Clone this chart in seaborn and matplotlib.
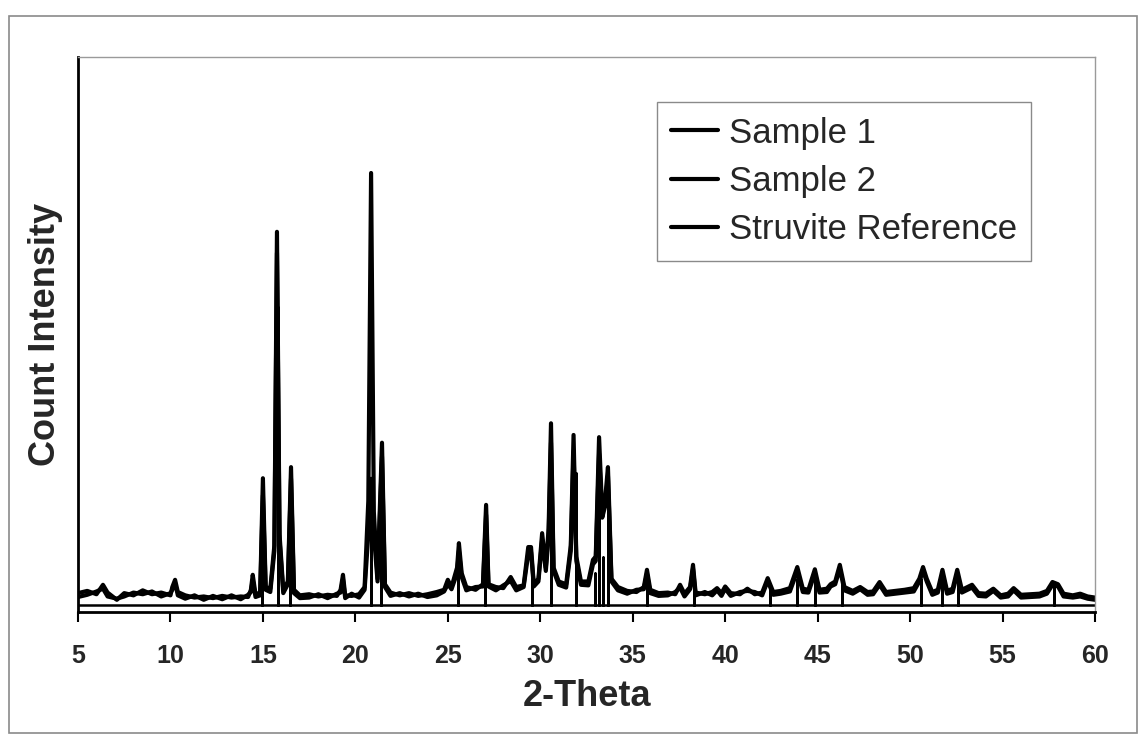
import matplotlib
matplotlib.use("Agg")
import matplotlib.pyplot as plt
from matplotlib.patches import Rectangle
import seaborn as sns
import pandas as pd

# ---------------- data ----------------
two_theta = [
    5.0, 5.5, 6.0, 6.35, 6.6, 7.1, 7.5, 8.0, 8.5, 9.0, 9.5, 10.0, 10.1, 10.25, 10.4,
    10.8, 11.3, 11.8, 12.3, 12.8, 13.3, 13.8, 14.2, 14.35, 14.45, 14.6, 14.85, 15.0,
    15.15, 15.4, 15.62, 15.76, 15.9, 16.1, 16.35, 16.52, 16.68, 17.0, 17.5, 18.0,
    18.5, 19.0, 19.2, 19.33, 19.45, 19.8, 20.2, 20.5, 20.7, 20.85, 21.0, 21.2, 21.44,
    21.6, 21.9, 22.4, 22.9, 23.4, 23.9, 24.4, 24.8, 25.0, 25.2, 25.5, 25.6, 25.75,
    26.0, 26.5, 26.9, 27.07, 27.2, 27.6, 28.0, 28.4, 28.7, 29.1, 29.35, 29.5, 29.65,
    29.9, 30.1, 30.3, 30.45, 30.58, 30.72, 31.0, 31.4, 31.65, 31.8, 31.95, 32.2,
    32.6, 32.85, 33.0, 33.18, 33.35, 33.5, 33.66, 33.85, 34.2, 34.7, 35.2, 35.6,
    35.77, 35.95, 36.4, 36.9, 37.3, 37.56, 37.8, 38.1, 38.26, 38.4, 38.9, 39.3,
    39.56, 39.8, 40.0, 40.3, 40.8, 41.2, 41.6, 42.0, 42.3, 42.6, 43.0, 43.5, 43.9,
    44.2, 44.5, 44.85, 45.1, 45.5, 45.7, 45.95, 46.2, 46.45, 46.9, 47.3, 47.7, 48.0,
    48.35, 48.7, 49.2, 49.7, 50.2, 50.5, 50.7, 50.9, 51.2, 51.5, 51.75, 52.0, 52.3,
    52.55, 52.8, 53.35, 53.7, 54.1, 54.5, 54.9, 55.3, 55.6, 56.0, 56.5, 57.0, 57.4,
    57.7, 58.0, 58.3, 58.8, 59.2, 59.6, 60.0,
]

sample_1 = [
    3.4, 3.8, 3.2, 4.9, 3.5, 2.2, 3.4, 3.0, 3.9, 3.2, 3.5, 3.0, 4.5, 5.8, 3.6,
    3.0, 2.6, 2.8, 2.5, 2.9, 2.6, 2.8, 2.7, 4.0, 6.7, 3.2, 3.5, 24.1,
    4.5, 4.2, 12.0, 68.5, 14.0, 4.0, 5.5, 26.1, 4.0, 3.0, 3.2, 2.8,
    3.1, 2.9, 4.0, 6.7, 3.0, 2.9, 3.2, 4.5, 20.0, 79.1, 18.0, 6.0, 30.5,
    5.0, 3.5, 3.0, 3.4, 2.9, 3.2, 3.6, 4.0, 5.8, 4.5, 8.0, 12.4, 7.0,
    4.5, 4.0, 5.0, 19.3, 5.0, 4.5, 4.3, 6.3, 4.5, 4.8, 11.7, 11.7, 5.0,
    6.0, 14.2, 8.0, 15.0, 34.0, 8.0, 5.5, 5.0, 12.0, 31.9, 10.0, 5.5,
    5.5, 9.4, 10.0, 31.5, 18.0, 20.0, 26.1, 6.0, 4.5, 3.8, 3.6, 4.5,
    7.6, 4.0, 3.4, 3.5, 3.2, 4.9, 3.3, 4.5, 8.5, 3.5, 3.2, 3.6,
    4.3, 3.4, 4.6, 3.4, 3.2, 4.2, 3.2, 3.5, 6.1, 3.6, 3.8, 4.3, 8.1,
    4.2, 4.0, 7.7, 4.0, 4.2, 5.0, 5.5, 8.5, 4.5, 3.8, 4.5, 3.6, 3.7,
    5.4, 3.6, 3.8, 4.0, 4.3, 6.0, 8.1, 6.0, 3.6, 4.0, 7.6, 3.8, 4.2,
    7.6, 4.0, 4.9, 3.4, 3.3, 4.2, 3.0, 3.3, 4.3, 3.1, 3.2, 3.3, 3.8,
    5.4, 5.0, 3.3, 3.0, 3.3, 2.8, 2.6,
]

sample_2 = [
    2.7, 3.1, 3.7, 4.2, 2.8, 2.4, 2.8, 3.5, 3.2, 3.7, 2.8, 3.4, 4.0, 5.2, 3.0,
    2.4, 3.0, 2.2, 2.9, 2.3, 3.0, 2.3, 3.1, 3.6, 5.8, 2.7, 3.0, 21.0,
    4.0, 3.6, 11.0, 64.7, 13.0, 3.4, 5.0, 24.0, 3.4, 2.5, 2.6, 3.2,
    2.5, 3.3, 3.5, 5.9, 2.5, 3.3, 2.6, 4.0, 14.0, 24.0, 14.0, 5.5, 28.0,
    4.5, 2.9, 3.4, 2.8, 3.3, 2.7, 3.0, 3.7, 5.0, 4.1, 7.0, 11.0, 6.3,
    3.9, 4.5, 4.6, 17.5, 4.6, 3.9, 4.8, 5.6, 3.9, 4.5, 10.5, 10.8, 4.6,
    5.5, 13.0, 7.4, 13.5, 30.5, 7.4, 4.9, 4.4, 11.0, 29.0, 9.2, 4.9,
    4.8, 8.6, 9.2, 28.5, 17.0, 19.0, 24.5, 5.5, 3.9, 3.3, 4.0, 4.1,
    6.9, 3.4, 2.9, 3.0, 3.6, 4.4, 2.8, 4.1, 7.8, 3.0, 3.6, 3.0,
    3.9, 2.9, 4.2, 2.9, 3.6, 3.8, 3.6, 3.0, 5.6, 3.1, 3.3, 3.7, 7.4,
    3.6, 3.5, 7.0, 3.5, 3.6, 4.6, 5.0, 7.8, 3.9, 3.3, 4.1, 3.1, 3.2,
    4.9, 3.1, 3.3, 3.5, 3.7, 5.5, 7.4, 5.5, 3.1, 3.5, 6.9, 3.3, 3.6,
    6.9, 3.5, 4.4, 2.9, 2.8, 3.8, 2.6, 2.8, 3.9, 2.6, 2.7, 2.8, 3.3,
    4.9, 4.6, 2.8, 2.6, 2.8, 2.4, 2.2,
]

ref_positions = [14.95, 15.8, 16.45, 20.85, 21.4, 25.55, 27.0, 29.55, 30.6, 31.95,
                 32.95, 33.2, 33.4, 33.66, 35.77, 38.3, 42.4, 43.9, 44.85, 46.3,
                 50.6, 51.7, 52.6, 57.8]
ref_heights = [18.0, 55.0, 20.0, 24.0, 24.0, 9.0, 15.0, 9.0, 27.0, 25.0,
               7.0, 25.0, 10.0, 20.0, 6.0, 6.5, 5.0, 6.0, 6.0, 6.5,
               6.0, 6.0, 6.0, 4.5]
ref_base = 1.2

series_names = ["Sample 1", "Sample 2", "Struvite Reference"]
x_ticks = [5, 10, 15, 20, 25, 30, 35, 40, 45, 50, 55, 60]

# ---------------- frames ----------------
df_samples = pd.DataFrame({
    "theta": two_theta * 2,
    "intensity": sample_1 + sample_2,
    "series": [series_names[0]] * len(two_theta) + [series_names[1]] * len(two_theta),
})

ref_x, ref_y = [5.0], [ref_base]
for p, h in zip(ref_positions, ref_heights):
    ref_x += [p, p, p]
    ref_y += [ref_base, h, ref_base]
ref_x.append(60.0)
ref_y.append(ref_base)
df_ref = pd.DataFrame({"theta": ref_x, "intensity": ref_y})

# ---------------- plot ----------------
sns.set_theme(style="white")
plt.rcParams["font.family"] = ["Liberation Sans", "DejaVu Sans"]

fig = plt.figure(figsize=(11.39, 7.35), dpi=100)
ax = fig.add_axes([78 / 1139, 1 - 612 / 735, (1095 - 78) / 1139, (612 - 57) / 735])

sns.lineplot(data=df_ref, x="theta", y="intensity", ax=ax, color="black",
             linewidth=1.8, sort=False, estimator=None, label=series_names[2])
for name, lw in [(series_names[1], 3.0), (series_names[0], 3.0)]:
    sub = df_samples[df_samples["series"] == name]
    sns.lineplot(data=sub, x="theta", y="intensity", ax=ax, color="black",
                 linewidth=lw, sort=False, estimator=None, label=name)

ax.set_xlim(5, 60)
ax.set_ylim(0, 100)
ax.set_xticks(x_ticks)
ax.set_xticklabels([str(t) for t in x_ticks], fontsize=18, fontweight="bold")
ax.set_yticks([])
ax.tick_params(axis="x", direction="out", length=7, width=1.5, color="black",
               pad=16, bottom=True)

ax.set_xlabel("2-Theta", fontsize=26, fontweight="bold", labelpad=8)
ax.set_ylabel("Count Intensity", fontsize=26, fontweight="bold", labelpad=11)

for side in ["left", "bottom"]:
    ax.spines[side].set_color("black")
    ax.spines[side].set_linewidth(2.0)
for side in ["top", "right"]:
    ax.spines[side].set_color("#9a9a9a")
    ax.spines[side].set_linewidth(1.0)

handles, labels = ax.get_legend_handles_labels()
order = [labels.index(n) for n in series_names]
leg = ax.legend([handles[i] for i in order], [labels[i] for i in order],
                loc="upper left", bbox_to_anchor=(0.569, 0.919),
                fontsize=25, frameon=True, fancybox=False, framealpha=1,
                edgecolor="#8a8a8a", handlelength=1.35, handletextpad=0.3,
                labelspacing=0.44, borderpad=0.42, borderaxespad=0)
leg.get_frame().set_linewidth(1.0)
for line in leg.get_lines():
    line.set_linewidth(3.0)
    line.set_color("black")

fig.patches.append(Rectangle((9 / 1139, 2 / 735), (1137 - 9) / 1139, (733 - 16) / 735,
                             transform=fig.transFigure, fill=False,
                             edgecolor="#8a8a8a", linewidth=1.2))

fig.savefig("out.png", dpi=100, facecolor="white")
